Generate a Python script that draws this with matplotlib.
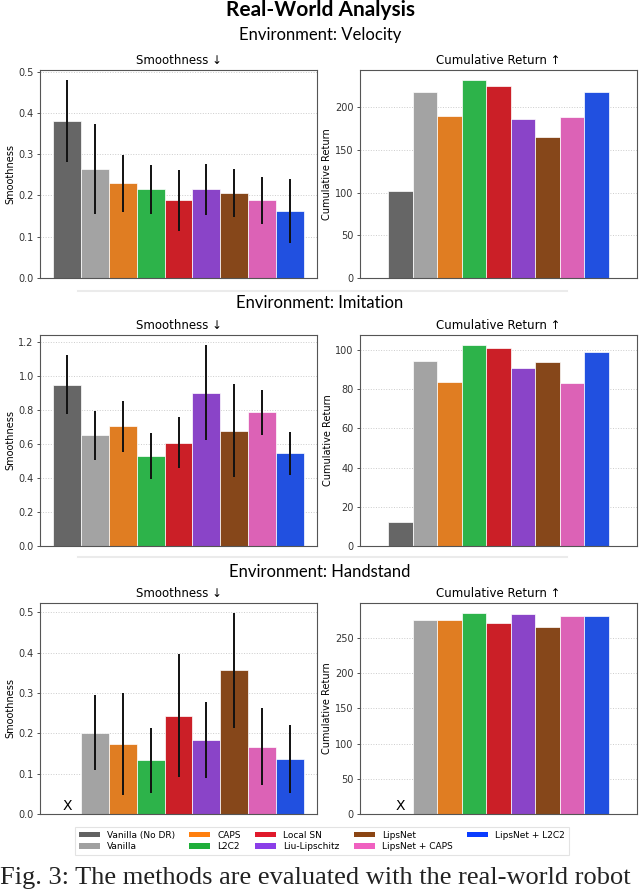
import numpy as np
import matplotlib
matplotlib.use("Agg")
import matplotlib.pyplot as plt
from matplotlib.patches import Patch
from matplotlib.lines import Line2D

methods = ["Vanilla (No DR)", "Vanilla", "CAPS", "L2C2", "Local SN",
           "Liu-Lipschitz", "LipsNet", "LipsNet + CAPS", "LipsNet + L2C2"]
bar_colors = ["#666666", "#a3a3a3", "#e07d22", "#2db34a", "#cb1f27",
              "#8a44c8", "#86471a", "#dc62b6", "#2150e0"]
legend_colors = ["#626262", "#a0a0a0", "#ff7f0e", "#1fae3a", "#e0192b",
                 "#8b3ee8", "#8b4513", "#f060c0", "#0a3cff"]

environments = ["Velocity", "Imitation", "Handstand"]

# Smoothness (lower is better) mean and std
vel_smooth = [0.380, 0.264, 0.229, 0.215, 0.188, 0.215, 0.206, 0.188, 0.163]
vel_smooth_err = [0.100, 0.110, 0.068, 0.059, 0.074, 0.062, 0.058, 0.056, 0.077]
imi_smooth = [0.949, 0.651, 0.703, 0.527, 0.608, 0.902, 0.679, 0.786, 0.545]
imi_smooth_err = [0.172, 0.145, 0.152, 0.135, 0.148, 0.280, 0.274, 0.133, 0.127]
hand_smooth = [np.nan, 0.201, 0.174, 0.133, 0.244, 0.183, 0.356, 0.167, 0.137]
hand_smooth_err = [np.nan, 0.093, 0.127, 0.081, 0.153, 0.094, 0.142, 0.096, 0.084]

# Cumulative return (higher is better)
vel_return = [101.7, 217.9, 189.5, 232.2, 225.6, 186.0, 165.0, 189.1, 217.9]
imi_return = [12.5, 94.2, 83.6, 102.6, 101.2, 90.9, 94.0, 83.1, 98.8]
hand_return = [np.nan, 275.7, 275.2, 285.6, 271.9, 284.7, 266.2, 280.9, 281.8]

smooth_data = [(vel_smooth, vel_smooth_err), (imi_smooth, imi_smooth_err),
               (hand_smooth, hand_smooth_err)]
return_data = [vel_return, imi_return, hand_return]

W, H = 640, 889
fig = plt.figure(figsize=(W / 100, H / 100), dpi=100)

def fy(py):
    return 1 - py / H

rows = [(70, 278), (335, 546), (603, 814)]
left_x = (40, 317)
right_x = (360, 637)
env_title_y = [35, 303, 572]

title_font = ["Lato", "DejaVu Sans"]
fig.text(0.5, fy(10), "Real-World Analysis", ha="center", va="center",
         fontsize=15, fontweight="bold", family=title_font)

x = np.arange(len(methods))

def style_ax(ax):
    for s in ax.spines.values():
        s.set_color("#555555")
        s.set_linewidth(0.8)
    ax.set_xticks([])
    ax.tick_params(axis="y", labelsize=7, length=2.5, width=0.6,
                   colors="#333333", pad=2)
    ax.grid(axis="y", linestyle=":", color="#cccccc", linewidth=0.7)
    ax.set_axisbelow(True)

for r, (top, bot) in enumerate(rows):
    fig.text(0.5, fy(env_title_y[r]), f"Environment: {environments[r]}",
             ha="center", va="center", fontsize=12, family=title_font)
    # Smoothness
    axL = fig.add_axes([left_x[0] / W, fy(bot), (left_x[1] - left_x[0]) / W,
                        (bot - top) / H])
    vals, errs = smooth_data[r]
    vals = np.array(vals, dtype=float)
    errs = np.array(errs, dtype=float)
    axL.bar(x, np.nan_to_num(vals), width=1.0, color=bar_colors,
            edgecolor="white", linewidth=0.5)
    axL.errorbar(x, vals, yerr=errs, fmt="none", ecolor="#111111",
                 elinewidth=1.4, capsize=0)
    axL.set_xlim(-0.97, 8.97)
    axL.set_ylim(0, np.nanmax(vals + errs) * 1.05)
    axL.set_ylabel("Smoothness", fontsize=7, labelpad=2)
    axL.set_title("Smoothness \u2193", fontsize=8.5, pad=4)
    style_ax(axL)
    # Return
    axR = fig.add_axes([right_x[0] / W, fy(bot), (right_x[1] - right_x[0]) / W,
                        (bot - top) / H])
    rv = np.array(return_data[r], dtype=float)
    axR.bar(x, np.nan_to_num(rv), width=1.0, color=bar_colors,
            edgecolor="white", linewidth=0.5)
    axR.set_xlim(-1.65, 9.65)
    axR.set_ylim(0, np.nanmax(rv) * 1.05)
    axR.set_ylabel("Cumulative Return", fontsize=7, labelpad=2)
    axR.set_title("Cumulative Return \u2191", fontsize=8.5, pad=4)
    style_ax(axR)
    for ax, v in ((axL, vals), (axR, rv)):
        for i, val in enumerate(v):
            if np.isnan(val):
                ax.text(i, ax.get_ylim()[1] * 0.005, "X", ha="center",
                        va="bottom", fontsize=10)

# faint separators
for py in (291, 557):
    fig.add_artist(Line2D([78 / W, 567 / W], [fy(py), fy(py)],
                          color="#ebebeb", linewidth=1.5))

handles = [Patch(facecolor=c, edgecolor="none") for c in legend_colors]
leg = fig.legend(handles, methods, loc="center",
                 bbox_to_anchor=(322 / W, fy(841)), ncol=5, fontsize=6.5,
                 handlelength=2.3, handleheight=0.55, columnspacing=1.6,
                 labelspacing=0.3, borderpad=0.45, frameon=True,
                 fancybox=False, edgecolor="#dddddd")
leg.get_frame().set_linewidth(0.8)

fig.text(0.0, fy(884), "Fig. 3: The methods are evaluated with the real-world robot",
         ha="left", va="baseline", fontsize=19, family="Liberation Serif",
         color="#222222")

fig.savefig("out.png", dpi=100)
